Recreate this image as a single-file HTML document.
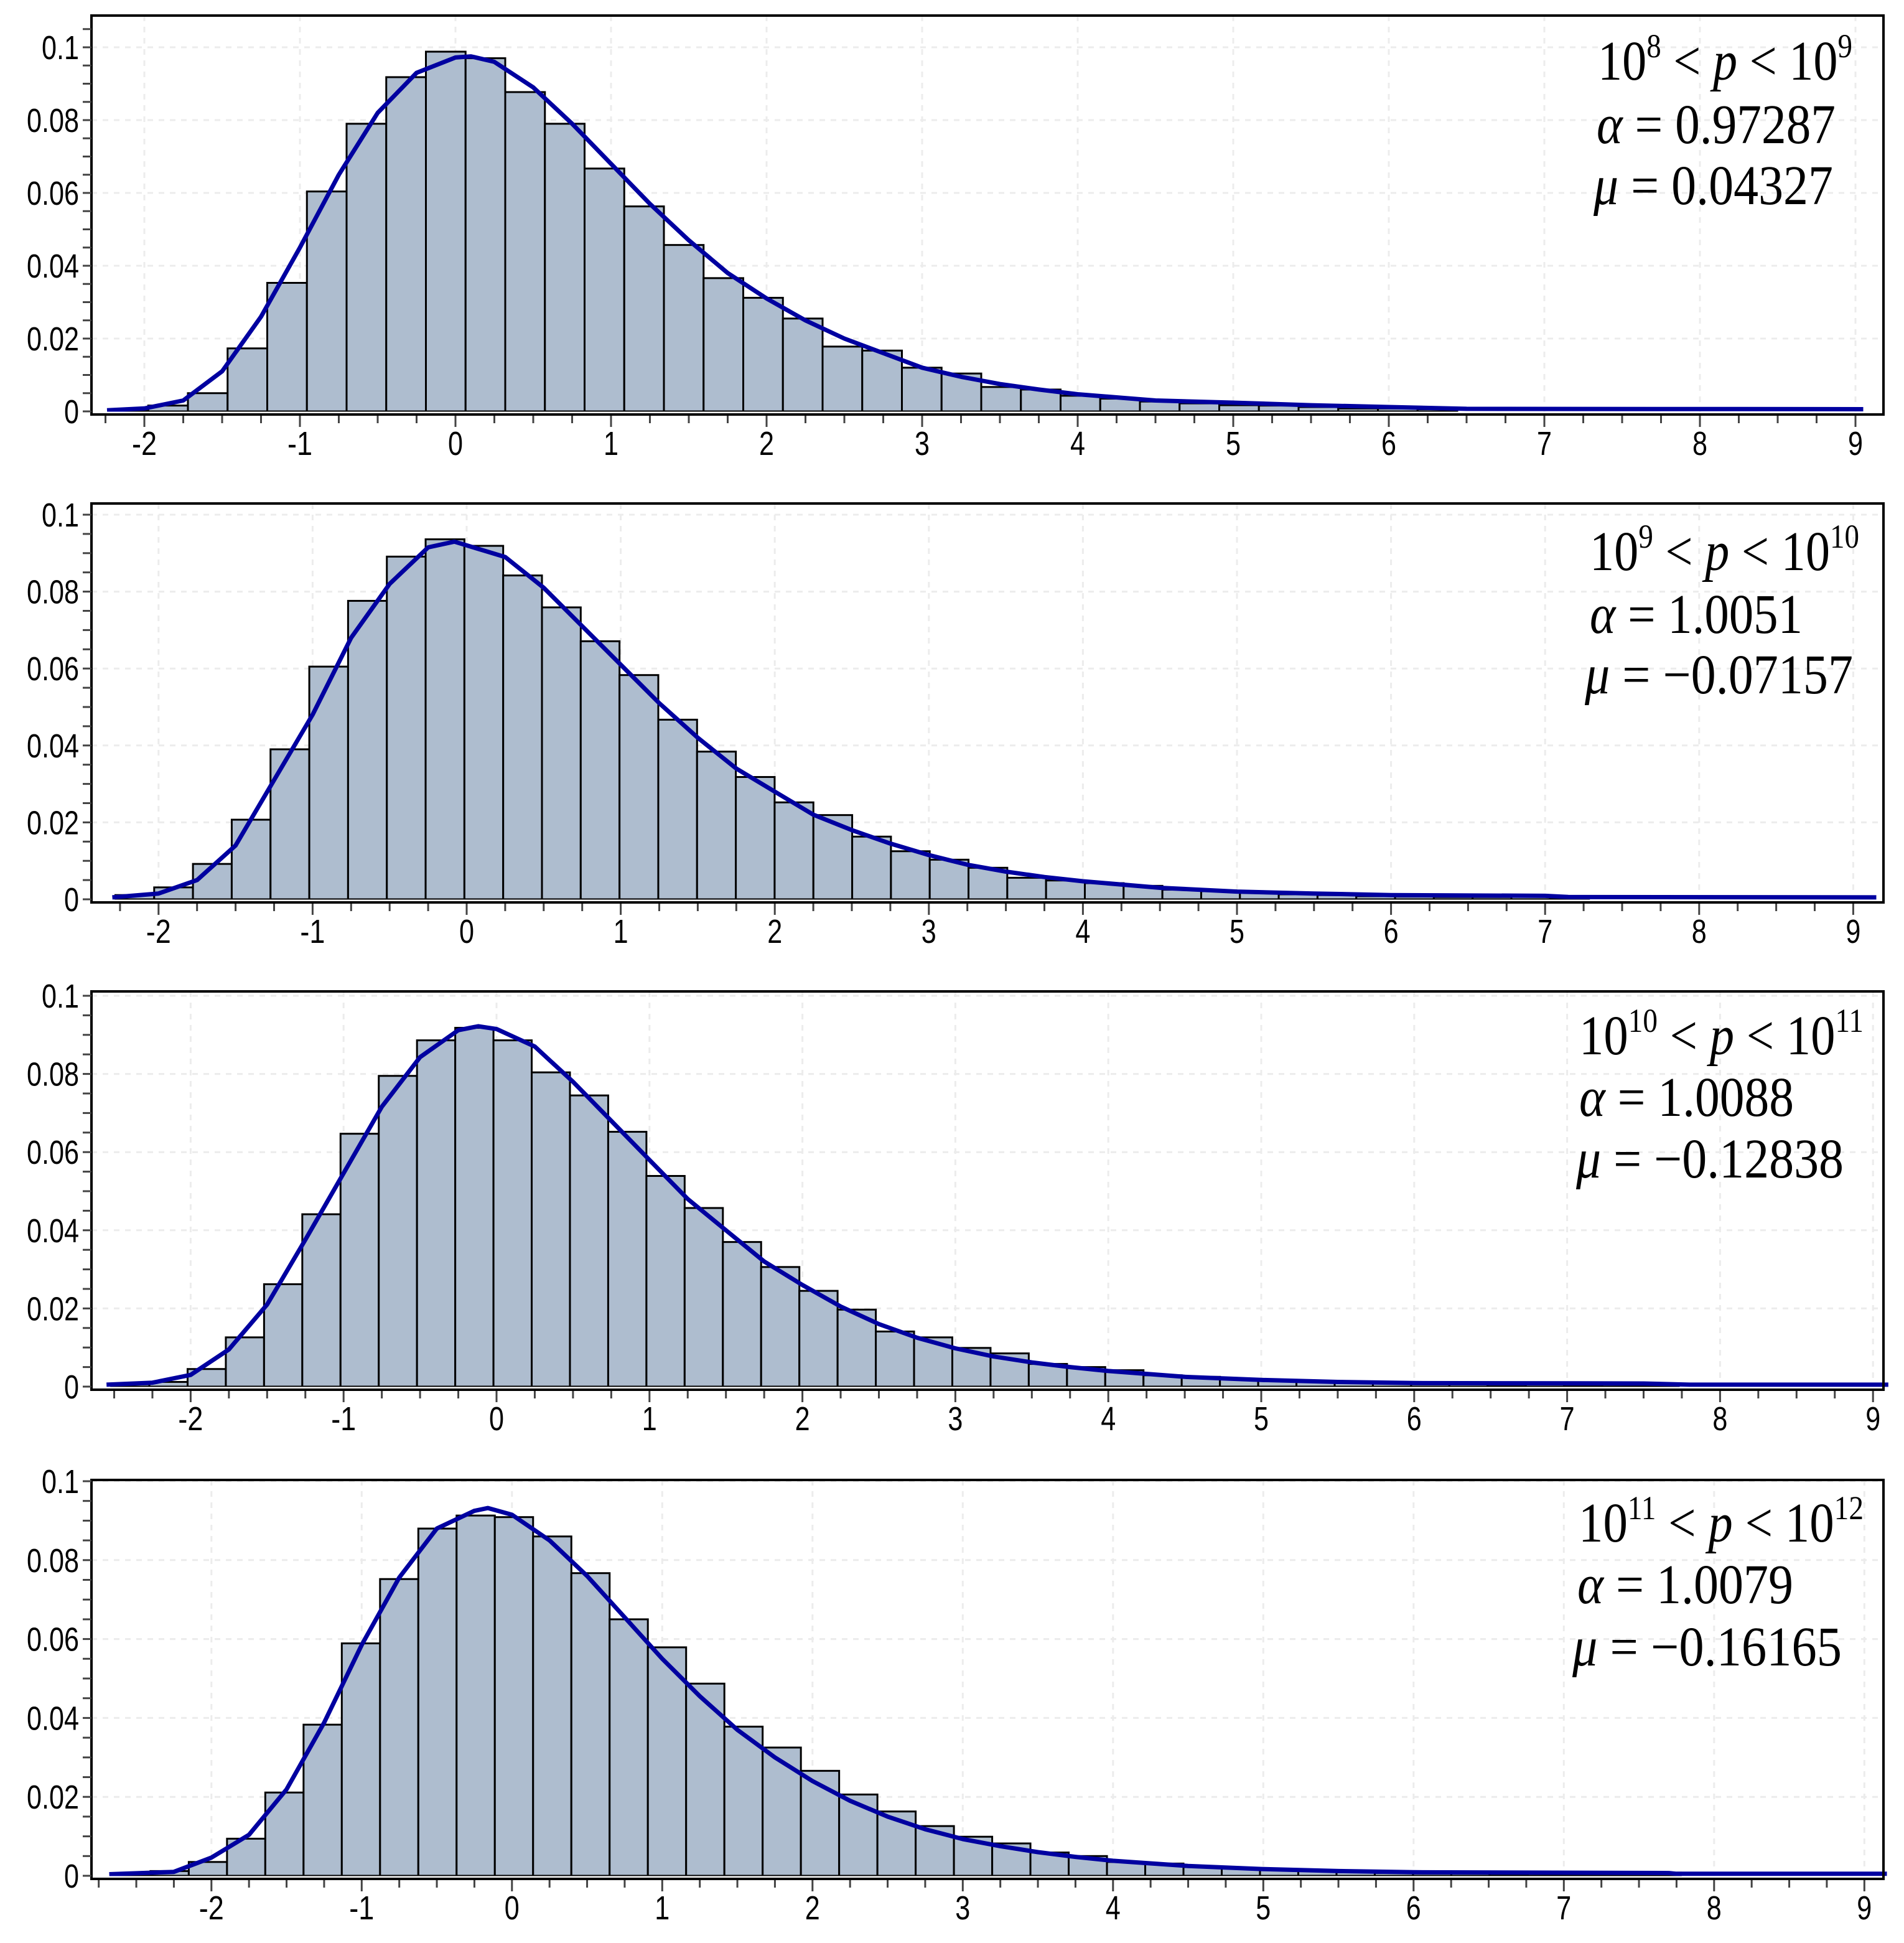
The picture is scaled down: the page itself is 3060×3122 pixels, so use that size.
<!DOCTYPE html>
<html><head><meta charset="utf-8">
<style>
html,body{margin:0;padding:0;background:#fff;}
svg{display:block;}
</style></head>
<body>
<svg id="chart" xmlns="http://www.w3.org/2000/svg" width="3060" height="3122" viewBox="0 0 3060 3122">
<rect x="0" y="0" width="3060" height="3122" fill="#ffffff"/>
</svg>
<script>
// ---------- data ----------
const xTickValues = [-2,-1,0,1,2,3,4,5,6,7,8,9];
const xTickLabels = ['-2','-1','0','1','2','3','4','5','6','7','8','9'];
const yTickValues = [0,0.02,0.04,0.06,0.08,0.1];
const yTickLabels = ['0','0.02','0.04','0.06','0.08','0.1'];

// panel 1 : 10^8 < p < 10^9
const binStart1 = -2.23, binWidth1 = 0.255;
const heights1 = [0.0005,0.0016,0.005,0.0173,0.0353,0.0604,0.079,0.0918,0.0988,0.097,0.0877,0.079,0.0667,0.0563,0.0457,0.0366,0.0312,0.0255,0.0178,0.0167,0.012,0.0104,0.0067,0.006,0.0043,0.0035,0.0027,0.0022,0.0017,0.0016,0.0012,0.0008,0.0008,0.0006];
const curveX1 = [-2.24,-2.0,-1.75,-1.5,-1.25,-1.0,-0.75,-0.5,-0.25,0,0.1,0.25,0.5,0.75,1.0,1.25,1.5,1.75,2.0,2.25,2.5,2.75,3.0,3.25,3.5,3.75,4.0,4.5,5.0,5.5,6.0,6.5,9.05];
const curveY1 = [0.0003,0.0008,0.003,0.011,0.026,0.045,0.065,0.082,0.093,0.0972,0.0975,0.096,0.089,0.079,0.068,0.057,0.047,0.038,0.031,0.025,0.02,0.016,0.012,0.0095,0.0075,0.006,0.0047,0.003,0.0024,0.0017,0.0012,0.0007,0.0006];

// panel 2 : 10^9 < p < 10^10
const binStart2 = -2.28, binWidth2 = 0.2517;
const heights2 = [0.0011,0.0031,0.0092,0.0207,0.039,0.0605,0.0776,0.0891,0.0936,0.0919,0.0842,0.0759,0.0671,0.0583,0.0467,0.0384,0.0318,0.0252,0.0219,0.0163,0.0125,0.0103,0.0082,0.0056,0.0049,0.0042,0.0035,0.0025,0.0021,0.0017,0.0013,0.0011,0.0008,0.0007,0.0006,0.0006,0.0009,0.0005];
const curveX2 = [-2.3,-2.0,-1.75,-1.5,-1.25,-1.0,-0.75,-0.5,-0.25,-0.08,0.25,0.5,0.75,1.0,1.25,1.5,1.75,2.0,2.25,2.5,2.75,3.0,3.25,3.5,3.75,4.0,4.5,5.0,5.5,6.0,7.0,7.15,9.15];
const curveY2 = [0.0005,0.0015,0.005,0.014,0.031,0.048,0.068,0.082,0.0915,0.093,0.089,0.081,0.071,0.061,0.051,0.042,0.034,0.028,0.022,0.018,0.0145,0.0115,0.009,0.0072,0.0058,0.0047,0.003,0.002,0.0015,0.0011,0.0009,0.0006,0.0005];

// panel 3 : 10^10 < p < 10^11
const binStart3 = -2.52, binWidth3 = 0.25;
const heights3 = [0.0006,0.0012,0.0045,0.0126,0.0262,0.0441,0.0647,0.0795,0.0886,0.0918,0.0886,0.0804,0.0745,0.0652,0.0539,0.0457,0.037,0.0306,0.0245,0.0197,0.0141,0.0126,0.0099,0.0085,0.0058,0.005,0.0042,0.0029,0.0025,0.0019,0.0017,0.0012,0.0011,0.0008,0.0006,0.0006,0.0005,0.0006,0.0005,0.0008,0.0005];
const curveX3 = [-2.55,-2.25,-2.0,-1.75,-1.5,-1.25,-1.0,-0.75,-0.5,-0.25,-0.12,0.0,0.25,0.5,0.75,1.0,1.25,1.5,1.75,2.0,2.25,2.5,2.75,3.0,3.25,3.5,3.75,4.0,4.5,5.0,5.5,6.0,7.5,7.8,9.1];
const curveY3 = [0.0005,0.001,0.003,0.0095,0.021,0.0376,0.0546,0.0716,0.0843,0.0912,0.0922,0.0915,0.087,0.078,0.068,0.058,0.048,0.04,0.032,0.026,0.0205,0.016,0.0125,0.0098,0.0077,0.0062,0.005,0.004,0.0025,0.0017,0.0012,0.0009,0.0008,0.0005,0.0005];

// panel 4 : 10^11 < p < 10^12
const binStart4 = -2.66, binWidth4 = 0.2546;
const heights4 = [0.0005,0.0012,0.0035,0.0094,0.0211,0.0383,0.0589,0.0752,0.088,0.0913,0.0909,0.086,0.0767,0.065,0.0579,0.0487,0.0378,0.0325,0.0266,0.0206,0.0163,0.0126,0.0099,0.0082,0.0059,0.005,0.0035,0.0031,0.0022,0.0019,0.0015,0.0012,0.0009,0.0007,0.0006,0.0006,0.0005,0.0006,0.0005,0.0006,0.0008];
const curveX4 = [-2.68,-2.25,-2.0,-1.75,-1.5,-1.25,-1.0,-0.75,-0.5,-0.25,-0.16,0.0,0.25,0.5,0.75,1.0,1.25,1.5,1.75,2.0,2.25,2.5,2.75,3.0,3.25,3.5,3.75,4.0,4.5,5.0,5.5,6.0,7.7,7.75,9.15];
const curveY4 = [0.0004,0.001,0.0046,0.0104,0.0219,0.0388,0.0585,0.0756,0.088,0.0925,0.0932,0.0915,0.085,0.076,0.0655,0.055,0.0455,0.037,0.03,0.024,0.019,0.015,0.0118,0.0093,0.0075,0.006,0.0048,0.0038,0.0025,0.0017,0.0012,0.0009,0.0007,0.0005,0.0005];

// ---------- layout (pixels, not data) ----------
const boxLeft = 147, boxRight = 3027;
const layouts = [
  {top:25,  y0:661,  y01:76,   x0:732,   ux:250,
   ann:[{y:128,x1:2568,x2:2977},{y:230,x1:2566,x2:2950},{y:328,x1:2561,x2:2946}]},
  {top:809, y0:1445, y01:827,  x0:750,   ux:247.6,
   ann:[{y:916,x1:2555,x2:2988},{y:1017,x1:2555,x2:2897},{y:1114,x1:2547,x2:2978}]},
  {top:1593,y0:2228, y01:1600, x0:798,   ux:245.8,
   ann:[{y:1694,x1:2538,x2:2995},{y:1793,x1:2538,x2:2883},{y:1892,x1:2533,x2:2963}]},
  {top:2378,y0:3014, y01:2380, x0:822.8, ux:241.5,
   ann:[{y:2477,x1:2537,x2:2995},{y:2576,x1:2535,x2:2882},{y:2676,x1:2527,x2:2960}]}
];
const annText = [
  {lo:'8',hi:'9',alpha:'0.97287',mu:'0.04327'},
  {lo:'9',hi:'10',alpha:'1.0051',mu:'\u22120.07157'},
  {lo:'10',hi:'11',alpha:'1.0088',mu:'\u22120.12838'},
  {lo:'11',hi:'12',alpha:'1.0079',mu:'\u22120.16165'}
];
const data = [
  {bs:binStart1,bw:binWidth1,h:heights1,cx:curveX1,cy:curveY1},
  {bs:binStart2,bw:binWidth2,h:heights2,cx:curveX2,cy:curveY2},
  {bs:binStart3,bw:binWidth3,h:heights3,cx:curveX3,cy:curveY3},
  {bs:binStart4,bw:binWidth4,h:heights4,cx:curveX4,cy:curveY4}
];

const NS = 'http://www.w3.org/2000/svg';
const svg = document.getElementById('chart');
function mk(tag, attrs, parent){
  const e = document.createElementNS(NS, tag);
  for (const k in attrs) e.setAttribute(k, attrs[k]);
  (parent||svg).appendChild(e);
  return e;
}
function labelWidth(s){
  let w=0;
  for (const c of s){ w += (c==='.')?12:(c==='-')?16:24; }
  return w;
}

layouts.forEach((L, pi) => {
  const D = data[pi];
  const xs = v => L.x0 + v*L.ux;
  const ys = v => L.y0 - v*(L.y0-L.y01)/0.1;
  const bottom = L.y0 + 5;

  const g = mk('g', {});
  
  

  // grid
  const grid = mk('g', {stroke:'#ececec','stroke-width':3,'stroke-dasharray':'9 9',fill:'none'}, g);
  
  
  yTickValues.forEach(v => {
    if (v===0) return;
    const ln = mk('line', {x1:boxLeft, x2:boxRight, y1:ys(v), y2:ys(v)}, grid);
    
    
  });
  xTickValues.forEach(v => {
    const x = xs(v);
    if (x<=boxLeft || x>=boxRight) return;
    const ln = mk('line', {x1:x, x2:x, y1:L.top, y2:bottom}, grid);
    
    
  });

  // bars
  const bars = mk('g', {fill:'#aebdcf', stroke:'#000', 'stroke-width':3}, g);
  
  
  D.h.forEach((v, i) => {
    const a = xs(D.bs + i*D.bw), b = xs(D.bs + (i+1)*D.bw);
    const r = mk('rect', {x:a, y:ys(v), width:b-a, height:L.y0-ys(v)}, bars);
    
    
  });

  // curve
  const pts = D.cx.map((x,i)=> xs(x).toFixed(1)+','+ys(D.cy[i]).toFixed(1)).join(' ');
  const pl = mk('polyline', {points:pts, fill:'none', stroke:'#0000a0', 'stroke-width':7, 'stroke-linejoin':'round'}, g);
  
  

  // white gap + frame
  mk('line', {x1:boxLeft, x2:boxRight, y1:L.y0+2, y2:L.y0+2, stroke:'#fff','stroke-width':3}, g);
  const frame = mk('rect', {x:boxLeft, y:L.top, width:boxRight-boxLeft, height:bottom-L.top, fill:'none', stroke:'#000','stroke-width':4}, g);
  
  

  // y ticks
  const yt = mk('g', {stroke:'#444','stroke-width':3}, g);
  
  
  for (let k=0; k<=21; k++){
    const v = k*0.005;
    const y = ys(v);
    if (y < L.top) break;
    mk('line', {x1:boxLeft-14, x2:boxLeft, y1:y, y2:y}, yt);
  }
  yTickValues.forEach((v,i) => {
    const t = mk('text', {x:127, y:ys(v)+19, 'text-anchor':'end', 'font-family':'Liberation Sans, sans-serif', 'font-size':54, fill:'#000', textLength:labelWidth(yTickLabels[i]), lengthAdjust:'spacingAndGlyphs'}, g);
    t.textContent = yTickLabels[i];
    
    
  });

  // x ticks
  const xt = mk('g', {stroke:'#444','stroke-width':3}, g);
  
  
  for (let k=-12; k<=40; k++){
    const v = k*0.25;
    const x = xs(v);
    if (x < boxLeft+4 || x > boxRight-4) continue;
    const len = (k%4===0) ? 18 : 12;
    mk('line', {x1:x, x2:x, y1:bottom+2, y2:bottom+2+len}, xt);
  }
  xTickValues.forEach((v,i) => {
    const t = mk('text', {x:xs(v), y:L.y0+70, 'text-anchor':'middle', 'font-family':'Liberation Sans, sans-serif', 'font-size':54, fill:'#000', textLength:labelWidth(xTickLabels[i]), lengthAdjust:'spacingAndGlyphs'}, g);
    t.textContent = xTickLabels[i];
    
    
  });

  // annotation
  const A = annText[pi];
  const font = 'Liberation Serif, serif';
  const a0 = L.ann[0], a1 = L.ann[1], a2 = L.ann[2];
  const t1 = mk('text', {x:a0.x1, y:a0.y, 'font-family':font, 'font-size':90, fill:'#000', textLength:a0.x2-a0.x1, lengthAdjust:'spacingAndGlyphs'}, g);
  
  
  t1.innerHTML = '10<tspan dy="-36" font-size="54">'+A.lo+'</tspan><tspan dy="36"> &lt; </tspan><tspan font-style="italic">p</tspan><tspan> &lt; 10</tspan><tspan dy="-36" font-size="54">'+A.hi+'</tspan>';
  const t2 = mk('text', {x:a1.x1, y:a1.y, 'font-family':font, 'font-size':90, fill:'#000', textLength:a1.x2-a1.x1, lengthAdjust:'spacingAndGlyphs'}, g);
  
  
  t2.innerHTML = '<tspan font-style="italic">\u03b1</tspan> = '+A.alpha;
  const t3 = mk('text', {x:a2.x1, y:a2.y, 'font-family':font, 'font-size':90, fill:'#000', textLength:a2.x2-a2.x1, lengthAdjust:'spacingAndGlyphs'}, g);
  
  
  t3.innerHTML = '<tspan font-style="italic">\u03bc</tspan> = '+A.mu;
});
</script>
</body></html>
